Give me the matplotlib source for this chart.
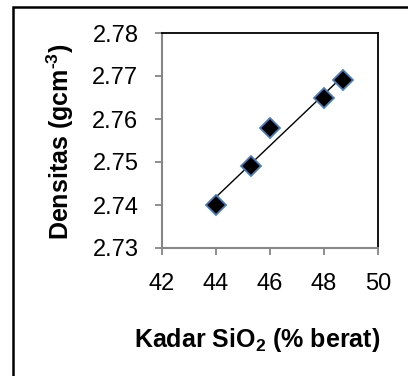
import matplotlib
matplotlib.use("Agg")
import matplotlib.pyplot as plt
import numpy as np
from matplotlib.patches import Rectangle

# Data
sio2 = [44.0, 45.3, 46.0, 48.0, 48.7]
densitas = [2.740, 2.749, 2.758, 2.765, 2.769]
x_ticks = [42, 44, 46, 48, 50]
y_ticks = [2.73, 2.74, 2.75, 2.76, 2.77, 2.78]

plt.rcParams['font.family'] = ['Liberation Sans', 'DejaVu Sans']
plt.rcParams['mathtext.fontset'] = 'custom'
plt.rcParams['mathtext.rm'] = 'Liberation Sans:bold'
plt.rcParams['mathtext.bf'] = 'Liberation Sans:bold'

fig = plt.figure(figsize=(4.08, 3.76), dpi=100)
fig.patch.set_facecolor('white')

# outer frame
fig.add_artist(Rectangle((12.5/408, -0.1), 1.2, 1.1 - 6.5/376, transform=fig.transFigure,
                         fill=False, edgecolor='black', linewidth=1.8))

ax = fig.add_axes([162/408, 1-248/376, 216/408, 215/376])

# trend line
coef = np.polyfit(sio2, densitas, 1)
xl = np.array([min(sio2), max(sio2)])
ax.plot(xl, np.polyval(coef, xl), color='black', linewidth=1.0, zorder=2)

ax.plot(sio2, densitas, linestyle='none', marker='D', markersize=10,
        markerfacecolor='black', markeredgecolor='#4a7ebb', markeredgewidth=1.3, zorder=3)

ax.set_xlim(42, 50)
ax.set_ylim(2.73, 2.78)
ax.set_xticks(x_ticks)
ax.set_yticks(y_ticks)
ax.set_xticklabels([str(t) for t in x_ticks])
ax.set_yticklabels([f"{t:.2f}" for t in y_ticks])

for s in ['left', 'bottom']:
    ax.spines[s].set_color('#868686')
    ax.spines[s].set_linewidth(1.5)
for s in ['top', 'right']:
    ax.spines[s].set_color('black')
    ax.spines[s].set_linewidth(1.3)

ax.tick_params(axis='both', direction='out', length=5, width=1.3, color='#868686',
               labelsize=17, labelcolor='black')
ax.tick_params(axis='x', pad=13)
ax.tick_params(axis='y', pad=12)

fig.text(60/408, 1-141.5/376, r"Densitas (gcm$^{\text{-3}}$)", rotation=90,
         ha='center', va='center', fontsize=18, fontweight='bold')
fig.text(257/408, 1-340/376, r"Kadar SiO$_{\mathbf{2}}$ (% berat)",
         ha='center', va='center', fontsize=18, fontweight='bold')

fig.savefig('out.png', dpi=100, facecolor='white')
